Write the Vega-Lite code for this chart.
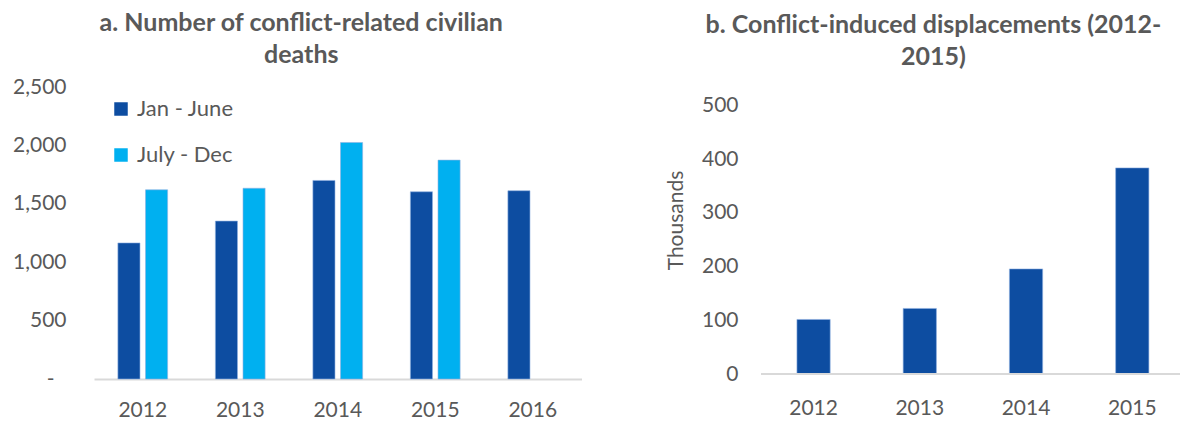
{
  "$schema": "https://vega.github.io/schema/vega-lite/v6.json",
  "padding": {"left": 12, "top": 11, "right": 0, "bottom": 0},
  "spacing": 83,
  "config": {
    "font": "Lato",
    "view": {"stroke": null},
    "axis": {
      "labelFont": "Lato", "labelFontSize": 21, "labelColor": "#595959",
      "ticks": false, "grid": false,
      "titleFont": "Lato", "titleFontSize": 21, "titleColor": "#595959", "titleFontWeight": "normal"
    },
    "title": {
      "font": "Lato", "fontSize": 25, "fontWeight": "bold", "color": "#595959",
      "anchor": "middle", "lineHeight": 31.7, "baseline": "bottom"
    }
  },
  "hconcat": [
    {
      "width": 487.5,
      "height": 292,
      "title": {"text": ["a. Number of conflict-related civilian", "deaths"], "dx": -36.5, "offset": 8},
      "data": {
        "values": [
          {"year": "2012", "half": "Jan - June", "deaths": 1165},
          {"year": "2012", "half": "July - Dec", "deaths": 1620},
          {"year": "2013", "half": "Jan - June", "deaths": 1352},
          {"year": "2013", "half": "July - Dec", "deaths": 1633},
          {"year": "2014", "half": "Jan - June", "deaths": 1700},
          {"year": "2014", "half": "July - Dec", "deaths": 2025},
          {"year": "2015", "half": "Jan - June", "deaths": 1603},
          {"year": "2015", "half": "July - Dec", "deaths": 1874},
          {"year": "2016", "half": "Jan - June", "deaths": 1612}
        ]
      },
      "mark": {"type": "bar", "stroke": "#8fb0e0", "strokeWidth": 0.6},
      "encoding": {
        "x": {
          "field": "year", "type": "nominal",
          "scale": {"paddingInner": 0.49, "paddingOuter": 0.245},
          "axis": {"title": null, "labelAngle": 0, "domainColor": "#d9d9d9", "domainWidth": 2, "labelPadding": 20}
        },
        "xOffset": {
          "field": "half", "type": "nominal",
          "scale": {"domain": ["Jan - June", "July - Dec"], "paddingInner": 0.2, "paddingOuter": 0}
        },
        "y": {
          "field": "deaths", "type": "quantitative",
          "scale": {"domain": [0, 2500], "nice": false},
          "axis": {
            "title": null, "domain": false,
            "values": [0, 500, 1000, 1500, 2000, 2500],
            "labelPadding": {"condition": {"test": "datum.value == 0", "value": 40}, "value": 28},
            "labelExpr": "datum.value == 0 ? '-' : format(datum.value, ',')"
          }
        },
        "color": {
          "field": "half", "type": "nominal",
          "scale": {"domain": ["Jan - June", "July - Dec"], "range": ["#0D4DA1", "#00B0F0"]},
          "legend": {
            "title": null, "orient": "none", "legendX": 16, "legendY": 11,
            "padding": 0, "symbolType": "square", "symbolSize": 182,
            "symbolStrokeWidth": 0, "symbolOpacity": 1,
            "labelFont": "Lato", "labelFontSize": 22, "labelColor": "#595959",
            "labelOffset": 5, "rowPadding": 24
          }
        }
      }
    },
    {
      "width": 419,
      "height": 292,
      "title": {"text": ["b. Conflict-induced displacements (2012-", "2015)"], "dx": -37, "offset": 17},
      "data": {
        "values": [
          {"year": "2012", "thousands": 101.5},
          {"year": "2013", "thousands": 122},
          {"year": "2014", "thousands": 195.5},
          {"year": "2015", "thousands": 383.5}
        ]
      },
      "layer": [
        {
          "mark": {"type": "bar", "color": "#0D4DA1", "stroke": "#8fb0e0", "strokeWidth": 0.6},
          "encoding": {
            "x": {
              "field": "year", "type": "nominal",
              "scale": {"paddingInner": 0.687, "paddingOuter": 0.3155, "align": 0.536},
              "axis": {"title": null, "labelAngle": 0, "domain": false, "labelPadding": 18}
            },
            "y": {
              "field": "thousands", "type": "quantitative",
              "scale": {"domain": [-9.3, 534], "nice": false, "zero": false},
              "axis": {
                "title": "Thousands", "domain": false,
                "values": [0, 100, 200, 300, 400, 500],
                "labelPadding": 23,
                "titleX": -78.6, "titleY": 133, "titleAngle": -90,
                "titleBaseline": "alphabetic", "titleAlign": "center"
              }
            }
          }
        },
        {
          "mark": {"type": "rule", "color": "#d9d9d9", "strokeWidth": 2},
          "encoding": {"y": {"datum": 0, "type": "quantitative"}}
        }
      ]
    }
  ]
}
